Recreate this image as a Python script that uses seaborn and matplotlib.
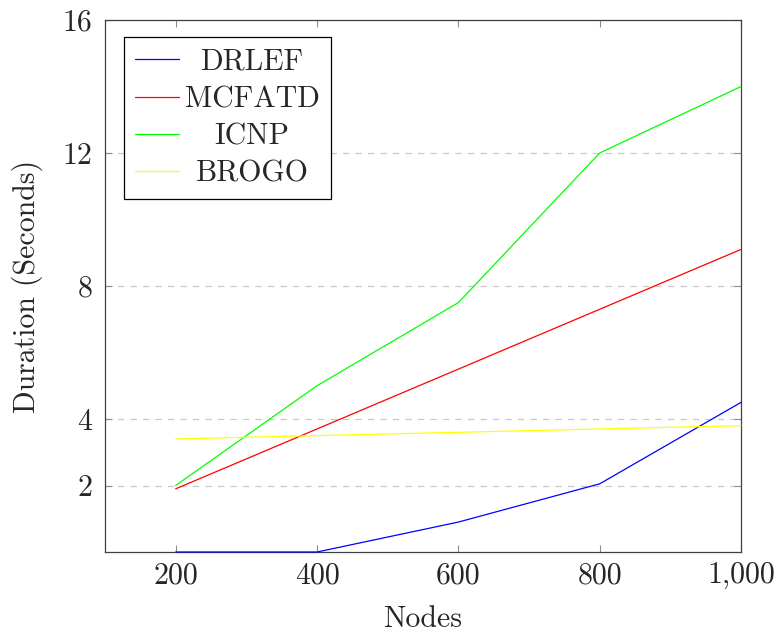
import matplotlib
matplotlib.use("Agg")
import matplotlib.pyplot as plt
import seaborn as sns
import pandas as pd
from matplotlib.transforms import Bbox

nodes = [200, 400, 600, 800, 1000]
drlef = [0, 0, 0.9, 2.05, 4.5]
mcfatd = [1.9, 3.7, 5.5, 7.3, 9.1]
icnp = [2, 5, 7.5, 12, 14]
brogo = [3.4, 3.5, 3.6, 3.7, 3.8]
series_names = ["DRLEF", "MCFATD", "ICNP", "BROGO"]
series_colors = ["#0000ff", "#ff0000", "#00ff00", "#ffff00"]
x_ticks = [200, 400, 600, 800, 1000]
x_tick_labels = ["200", "400", "600", "800", "1,000"]
y_ticks = [2, 4, 8, 12, 16]
y_tick_labels = ["2", "4", "8", "12", "16"]

FS = 21.5

sns.set_style("ticks")
plt.rcParams["font.family"] = ["cmr10", "DejaVu Serif"]
plt.rcParams["axes.formatter.use_mathtext"] = True
plt.rcParams["mathtext.fontset"] = "cm"

rows = []
for name, vals in zip(series_names, [drlef, mcfatd, icnp, brogo]):
    for x, y in zip(nodes, vals):
        rows.append({"Nodes": x, "Duration": y, "Series": name})
df = pd.DataFrame(rows)

fig = plt.figure(figsize=(7.78, 6.35), dpi=100)
ax = fig.add_axes([105 / 778, 1 - 552 / 635, (741 - 105) / 778, (552 - 20) / 635])

sns.lineplot(data=df, x="Nodes", y="Duration", hue="Series",
             palette=dict(zip(series_names, series_colors)),
             hue_order=series_names, linewidth=0.9, ax=ax, legend=False,
             clip_on=False, zorder=3)

ax.set_xlim(100, 1000)
ax.set_ylim(0, 16)
ax.set_xticks(x_ticks)
ax.set_xticklabels(x_tick_labels)
ax.set_yticks(y_ticks)
ax.set_yticklabels(y_tick_labels)
ax.yaxis.grid(True, linestyle=(0, (5, 5)), color="#c8c8c8", linewidth=0.9)
ax.xaxis.grid(False)
ax.tick_params(direction="in", length=5, width=0.8, color="#8c8c8c",
               top=True, right=True, labelsize=FS)
ax.tick_params(axis="x", pad=7)
ax.tick_params(axis="y", pad=9)
for s in ax.spines.values():
    s.set_visible(True)
    s.set_color("#404040")
    s.set_linewidth(0.9)
ax.set_xlabel("Nodes", fontsize=FS, labelpad=12)
ax.set_ylabel("Duration (Seconds)", fontsize=FS, labelpad=14)

handles = [plt.Line2D([], [], color=c, linewidth=0.9) for c in series_colors]
leg = ax.legend(handles, series_names, loc="upper left",
                bbox_to_anchor=(19 / 636, 1 - 17 / 532), borderaxespad=0,
                fontsize=FS, frameon=True, fancybox=False, framealpha=1,
                edgecolor="black", handlelength=1.45, handletextpad=0.2,
                labelspacing=0.33, borderpad=0.38)
leg.get_frame().set_linewidth(0.9)

# center the legend labels (pgfplots style)
fig.canvas.draw()
renderer = fig.canvas.get_renderer()
texts = leg.get_texts()
widths = [t.get_window_extent(renderer).width for t in texts]
W = max(widths)
tas = []
for col in leg._legend_handle_box.get_children():
    for hp in col.get_children():
        tas.append(hp.get_children()[1])
for ta in tas:
    ta._text.set_ha("center")
    orig = ta.get_bbox

    def new_bbox(r, orig=orig):
        b = orig(r)
        return Bbox.from_bounds(-W / 2, b.y0, W, b.height)
    ta.get_bbox = new_bbox

fig.savefig("out.png", dpi=100)
